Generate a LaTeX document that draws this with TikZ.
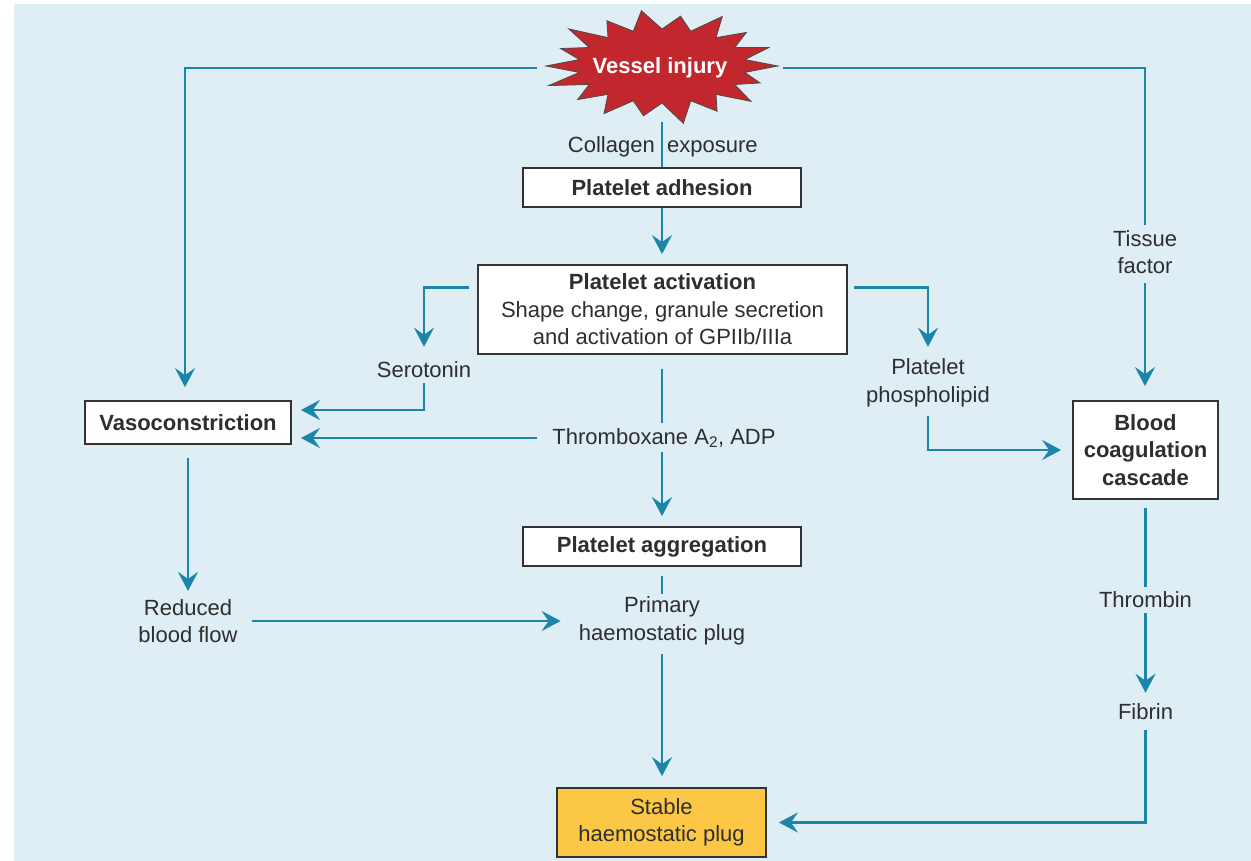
\documentclass[tikz,border=0pt]{standalone}
\usepackage{fontspec}
\setmainfont{Liberation Sans}
\usetikzlibrary{arrows.meta}
\definecolor{bgblue}{HTML}{DFEDF5}
\definecolor{lblue}{HTML}{1A86AA}
\definecolor{vred}{HTML}{C1272D}
\definecolor{plugyellow}{HTML}{FCC745}
\definecolor{txt}{HTML}{2E2E2E}
\definecolor{boxline}{HTML}{333333}
\newcommand\dfont{\fontsize{22}{27.5}\selectfont}
\begin{document}
\begin{tikzpicture}[x=1pt,y=-1pt,
  every node/.style={font=\dfont, text=txt},
  box/.style={draw=boxline, line width=1.8pt, fill=white, inner sep=0pt, align=center},
  lbl/.style={inner sep=0pt, align=center},
  conn/.style={draw=lblue, line width=2.4pt},
  arr/.style={conn, -{Stealth[length=19pt,width=20pt,inset=7pt]}},
  starshape/.style={fill=vred, draw=black!70, line width=0.8pt, line join=miter}
]
\useasboundingbox (0,0) rectangle (1251,861);
\fill[bgblue] (14,4) rectangle (1251,861);

% star
\begin{scope}[shift={(662,66)}]
\draw[starshape] (116,0)
  \foreach \k/\f in {1/0.9,2/1.0,3/0.95,4/1.06,5/0.92,6/1.0,7/0.95,8/1.04,9/1.0,10/0.93,11/1.05,12/0.95,13/1.02,14/0.92,15/1.04,16/0.95,17/0.98} {
    -- ({84*cos(\k*20-10)},{37*sin(\k*20-10)}) -- ({116*\f*cos(\k*20)},{55*\f*sin(\k*20)})
  } -- ({84*cos(350)},{37*sin(350)}) -- cycle;
\end{scope}
\node[inner sep=0pt, minimum width=246pt, minimum height=108pt, text=white, font=\dfont\bfseries] (vi) at (660,68) {Vessel injury};

% boxes
\node[box, minimum width=278pt, minimum height=39pt] (adh) at (662,187.5) {\textbf{Platelet adhesion}};
\node[box, minimum width=369pt, minimum height=89pt] (act) at (662.5,309.5) {\textbf{Platelet activation}\\Shape change, granule secretion\\and activation of GPIIb/IIIa};
\node[box, minimum width=206pt, minimum height=43pt] (vaso) at (188,422.5) {\textbf{Vasoconstriction}};
\node[box, minimum width=145pt, minimum height=98pt] (bcc) at (1145.5,450) {\textbf{Blood}\\\textbf{coagulation}\\\textbf{cascade}};
\node[box, minimum width=278pt, minimum height=39pt] (agg) at (662,546.5) {\textbf{Platelet aggregation}};
\node[box, fill=plugyellow, minimum width=209pt, minimum height=69pt] (shp) at (661.5,822.5) {Stable\\haemostatic plug};

% labels
\node[lbl, anchor=base east] (col) at (655,153) {Collagen};
\node[lbl, anchor=base west] (exp) at (667,153) {exposure};
\node[lbl] (tis) at (1145,252) {Tissue\\factor};
\node[lbl] (sero) at (424,370) {Serotonin};
\node[lbl] (thx) at (664,438) {Thromboxane A\textsubscript{2}, ADP};
\node[lbl] (pp) at (928,383) {Platelet\\phospholipid};
\node[lbl] (rbf) at (188,621) {Reduced\\blood flow};
\node[lbl] (php) at (662,621) {Primary\\haemostatic plug};
\node[lbl] (thr) at (1145.5,600) {Thrombin};
\node[lbl] (fib) at (1145.5,712) {Fibrin};

% connectors
\draw[arr, shorten >=13pt] (vi.west) -| ([xshift=-3pt]vaso.north);
\draw[conn, shorten >=5pt] (vi.east) -| (tis.north);
\draw[arr, shorten <=9pt, shorten >=14pt] (tis.south) -- (tis.south |- bcc.north);
\draw[conn] (adh.north |- vi.south) -- (adh.north);
\draw[arr, shorten >=10pt] (adh.south) -- (adh.south |- act.north);
\draw[arr, shorten <=8pt, shorten >=15pt] ([yshift=22pt]act.west) -| (sero.north);
\draw[arr, shorten <=5pt, shorten >=9pt] (sero.south) |- ([yshift=12.5pt]vaso.east);
\draw[conn, shorten <=14pt, shorten >=5pt] (agg.north |- act.south) -- (agg.north |- thx.north);
\draw[arr, shorten <=15pt, shorten >=9pt] (thx.west) -- (vaso.east |- thx.west);
\draw[arr, shorten <=4pt, shorten >=10pt] (agg.north |- thx.south) -- (agg.north);
\draw[arr, shorten <=6pt, shorten >=12pt] ([yshift=22pt]act.east) -| (pp.north);
\draw[arr, shorten <=9pt, shorten >=11pt] (pp.south) |- (bcc.west);
\draw[arr, shorten <=13pt, shorten >=8pt] (vaso.south) -- (rbf.north);
\draw[arr, shorten <=14pt, shorten >=18pt] (rbf.east) -- (php.west);
\draw[conn, shorten <=9pt, shorten >=3pt] (agg.south) -- (php.north);
\draw[arr, shorten <=9pt, shorten >=11pt] (php.south) -- (php.south |- shp.north);
\draw[conn, shorten <=8pt, shorten >=5pt] (bcc.south) -- (thr.north);
\draw[arr, shorten <=5pt, shorten >=11pt] (thr.south) -- (fib.north);
\draw[arr, shorten <=10pt, shorten >=12pt] (fib.south) |- (shp.east);
\end{tikzpicture}
\end{document}
